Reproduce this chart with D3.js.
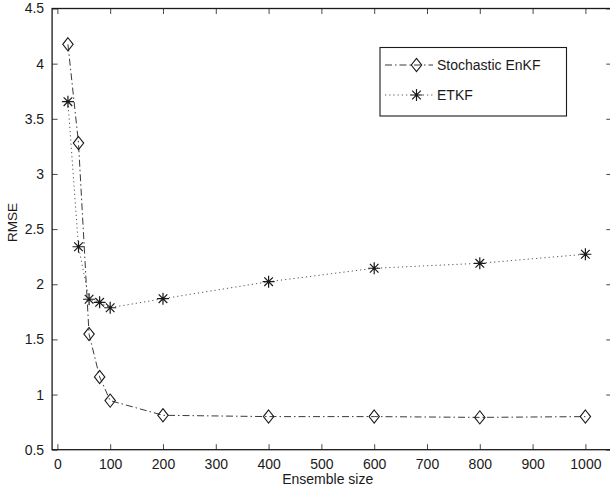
<!DOCTYPE html>
<html>
<head>
<meta charset="utf-8">
<script src="https://cdn.jsdelivr.net/npm/d3@7/dist/d3.min.js"></script>
<style>
  html, body { margin: 0; padding: 0; background: #fff; }
  svg { display: block; font-family: "Liberation Sans", Arial, Helvetica, sans-serif; }
</style>
</head>
<body>
<svg id="chart" width="610" height="490"></svg>
<script>
// Ensemble sizes and RMSE for each filter
const ensembleSizes = [20, 40, 60, 80, 100, 200, 400, 600, 800, 1000];
const enkfRmse = [4.175, 3.28, 1.548, 1.16, 0.945, 0.812, 0.80, 0.80, 0.793, 0.80];
const etkfRmse = [3.655, 2.34, 1.864, 1.836, 1.787, 1.869, 2.023, 2.145, 2.19, 2.272];
const seriesNames = ["Stochastic EnKF", "ETKF"];
const xTicks = [0, 100, 200, 300, 400, 500, 600, 700, 800, 900, 1000];
const yTicks = [0.5, 1, 1.5, 2, 2.5, 3, 3.5, 4, 4.5];
const xLabel = "Ensemble size";
const yLabel = "RMSE";

const svg = d3.select("#chart");
const ink = "#1a1a1a";
const fontSize = 14;

const x = d3.scaleLinear().domain([-10, 1050]).range([52.1, 611.8]);
const y = d3.scaleLinear().domain([0.5, 4.5]).range([449.7, 8.5]);

const plotLeft = x.range()[0], plotRight = x.range()[1];
const plotTop = y.range()[1], plotBottom = y.range()[0];

// Axes: ticks point inward on all four sides, labels on bottom and left
const tickLen = 5.5;
const axisB = d3.axisBottom(x).tickValues(xTicks).tickSizeInner(-tickLen).tickSizeOuter(0).tickPadding(9).tickFormat(d3.format("d"));
const axisT = d3.axisTop(x).tickValues(xTicks).tickSizeInner(-tickLen).tickSizeOuter(0).tickFormat("");
const axisL = d3.axisLeft(y).tickValues(yTicks).tickSizeInner(-tickLen).tickSizeOuter(0).tickPadding(8).tickFormat(d3.format("~g"));
const axisR = d3.axisRight(y).tickValues(yTicks).tickSizeInner(-tickLen).tickSizeOuter(0).tickFormat("");

function styleAxis(g) {
  g.select(".domain").remove();
  g.selectAll(".tick line").attr("stroke", ink).attr("stroke-width", 0.8);
  g.selectAll(".tick text").attr("fill", ink).attr("font-size", fontSize)
    .attr("font-family", "'Liberation Sans', Arial, sans-serif");
}

svg.append("g").attr("transform", `translate(0,${plotBottom})`).call(axisB).call(styleAxis);
svg.append("g").attr("transform", `translate(0,${plotTop})`).call(axisT).call(styleAxis);
svg.append("g").attr("transform", `translate(${plotLeft},0)`).call(axisL).call(styleAxis);
svg.append("g").attr("transform", `translate(${plotRight},0)`).call(axisR).call(styleAxis);

// Plot frame
svg.append("rect")
  .attr("x", plotLeft).attr("y", plotTop)
  .attr("width", plotRight - plotLeft).attr("height", plotBottom - plotTop)
  .attr("fill", "none").attr("stroke", ink).attr("stroke-width", 1.3);

// Axis titles
svg.append("text")
  .attr("x", x(512)).attr("y", 483.5)
  .attr("text-anchor", "middle").attr("font-size", fontSize).attr("fill", ink)
  .text(xLabel);
svg.append("text")
  .attr("transform", `translate(16.5,${y(2.56)}) rotate(-90)`)
  .attr("text-anchor", "middle").attr("font-size", fontSize - 0.5).attr("fill", ink)
  .text(yLabel);

// Marker shapes
function diamondPath(cx, cy) {
  const w = 5.2, h = 6.6;
  return `M${cx},${cy - h}L${cx + w},${cy}L${cx},${cy + h}L${cx - w},${cy}Z`;
}
function drawDiamond(g, cx, cy) {
  g.append("path").attr("d", diamondPath(cx, cy))
    .attr("fill", "none").attr("stroke", ink).attr("stroke-width", 1.1);
}
function drawStar(g, cx, cy) {
  const r = 6, d = r * 0.72;
  const p = `M${cx - r},${cy}L${cx + r},${cy}M${cx},${cy - r}L${cx},${cy + r}` +
            `M${cx - d},${cy - d}L${cx + d},${cy + d}M${cx - d},${cy + d}L${cx + d},${cy - d}`;
  g.append("path").attr("d", p).attr("fill", "none").attr("stroke", ink).attr("stroke-width", 1.2);
}

const line = d3.line().x(d => x(d[0])).y(d => y(d[1]));

const series = [
  { name: seriesNames[0], values: enkfRmse, dash: "7,3,1.5,3", color: "#222", width: 0.9, marker: drawDiamond },
  { name: seriesNames[1], values: etkfRmse, dash: "1.2,3", color: "#555", width: 1.0, marker: drawStar }
];

series.forEach(s => {
  const pts = ensembleSizes.map((n, i) => [n, s.values[i]]);
  svg.append("path").datum(pts)
    .attr("d", line)
    .attr("fill", "none")
    .attr("stroke", s.color)
    .attr("stroke-width", s.width)
    .attr("stroke-dasharray", s.dash);
  const mg = svg.append("g");
  pts.forEach(p => s.marker(mg, x(p[0]), y(p[1])));
});

// Legend
const lg = svg.append("g");
lg.append("rect")
  .attr("x", 380).attr("y", 47.5).attr("width", 186.5).attr("height", 68.5)
  .attr("fill", "#fff").attr("stroke", ink).attr("stroke-width", 1.1);
series.forEach((s, i) => {
  const ly = 65 + i * 30;
  lg.append("line")
    .attr("x1", 385).attr("x2", 433).attr("y1", ly).attr("y2", ly)
    .attr("stroke", s.color).attr("stroke-width", s.width)
    .attr("stroke-dasharray", s.dash);
  s.marker(lg, 416.5, ly);
  lg.append("text")
    .attr("x", 437).attr("y", ly + 5)
    .attr("font-size", fontSize).attr("fill", ink)
    .text(s.name);
});
</script>
</body>
</html>
